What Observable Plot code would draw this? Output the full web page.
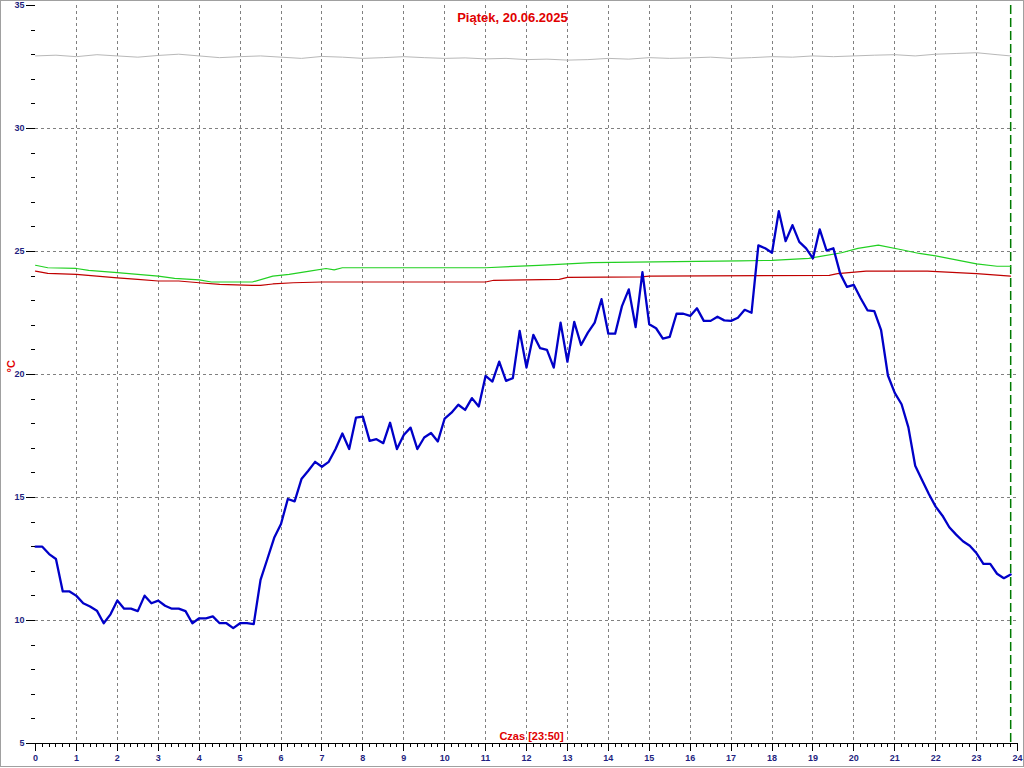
<!DOCTYPE html>
<html><head><meta charset="utf-8">
<script src="https://cdn.jsdelivr.net/npm/d3@7"></script>
<script src="https://cdn.jsdelivr.net/npm/@observablehq/plot@0.6"></script>
<style>
html,body{margin:0;padding:0;background:#fff;}
#wrap{position:relative;width:1024px;height:768px;overflow:hidden;}
#border{position:absolute;left:0;top:0;width:1022px;height:765px;border:1px solid #a0a0a0;pointer-events:none;}
</style></head><body><div id="wrap"><div id="border"></div></div>
<script>
// 10-minute samples, 00:00 .. 23:50
const blueTemp = [13.0,13.0,12.7,12.5,11.18,11.18,11.0,10.7,10.57,10.4,9.89,10.25,
10.81,10.48,10.48,10.38,11.01,10.7,10.81,10.6,10.48,10.48,10.38,9.89,
10.09,10.09,10.17,9.89,9.89,9.69,9.89,9.89,9.85,11.65,12.5,13.36,
13.92,14.94,14.84,15.75,16.09,16.45,16.25,16.45,16.97,17.6,16.97,18.25,
18.29,17.3,17.37,17.21,18.04,16.97,17.54,17.84,16.97,17.44,17.62,17.28,
18.21,18.45,18.77,18.56,19.04,18.7,19.94,19.71,20.52,19.74,19.85,21.77,
20.28,21.61,21.07,21.0,20.28,22.11,20.52,22.14,21.2,21.7,22.11,23.06,
21.66,21.66,22.78,23.46,21.93,24.16,22.04,21.88,21.46,21.53,22.47,22.47,
22.38,22.69,22.18,22.18,22.35,22.2,22.18,22.31,22.63,22.51,25.25,25.13,
24.95,26.64,25.42,26.07,25.39,25.13,24.72,25.9,25.04,25.13,24.1,23.56,
23.64,23.1,22.61,22.58,21.8,19.96,19.25,18.79,17.85,16.29,15.71,15.14,
14.63,14.26,13.79,13.49,13.22,13.04,12.73,12.3,12.3,11.9,11.72,11.87];

// 30-minute readings of the grey series
const grayTemp = [32.95,32.98,32.92,33.0,32.95,32.9,32.97,33.02,32.95,32.88,32.92,32.95,
32.9,32.85,32.93,32.9,32.85,32.88,32.92,32.88,32.85,32.87,32.83,32.85,
32.8,32.82,32.78,32.8,32.85,32.82,32.88,32.85,32.87,32.9,32.85,32.88,
32.92,32.9,32.95,32.92,32.95,32.98,33.0,32.95,33.02,33.05,33.08,33.0,32.95];

const greenHours = [0,0.3,1,1.3,2,3,3.4,4,4.3,5.3,5.8,6.2,6.7,7.1,7.3,7.5,11,12.3,13.6,17.2,18,18.9,19.7,20.1,20.6,21.2,21.6,22,23,23.5,23.83];
const greenTemp  = [24.44,24.34,24.31,24.23,24.14,24.0,23.91,23.85,23.76,23.76,24.0,24.07,24.2,24.31,24.25,24.34,24.34,24.44,24.55,24.62,24.64,24.72,24.95,25.13,25.26,25.06,24.92,24.82,24.5,24.4,24.4];

const redHours = [0,0.3,1,1.5,2,2.5,3,3.5,4,4.5,5.3,5.5,5.8,6.3,7,11,11.2,12.8,13,14.8,15,19.4,19.6,20.3,21.8,23,23.83];
const redTemp  = [24.2,24.11,24.07,24.0,23.93,23.87,23.8,23.8,23.73,23.66,23.62,23.62,23.68,23.73,23.76,23.76,23.83,23.87,23.95,23.97,24.0,24.03,24.1,24.2,24.2,24.1,24.0];

const hourTicks = [0,1,2,3,4,5,6,7,8,9,10,11,12,13,14,15,16,17,18,19,20,21,22,23,24];
const yTicks = [5,10,15,20,25,30,35];
const gridHours = hourTicks.slice(1, -1);
const gridTemps = [10,15,20,25,30];
const title = "Piątek, 20.06.2025";
const xTitle = "Czas [23:50]";
const yTitle = "°C";
const endHour = 23 + 50/60;

const blue = blueTemp.map((v,i) => ({h: i/6, v}));
const gray = grayTemp.map((v,i) => ({h: i === grayTemp.length-1 ? endHour : i/2, v}));
const green = greenHours.map((h,i) => ({h, v: greenTemp[i]}));
const red = redHours.map((h,i) => ({h, v: redTemp[i]}));
const minorX = d3.range(0, 24*6+1).map(i => i/6);
const minorY = d3.range(5, 36);

const navy = "#1f1f80";
const crisp = {shapeRendering: "crispEdges"};
const chart = Plot.plot({
  width: 1024, height: 768,
  marginLeft: 35, marginRight: 7, marginTop: 5, marginBottom: 25,
  x: {domain: [0, 24]},
  y: {domain: [5, 35]},
  style: {background: "transparent", fontFamily: "'Liberation Sans', Arial, sans-serif", overflow: "visible"},
  marks: [
    Plot.gridX(gridHours, {stroke: "#808080", strokeOpacity: 1, strokeDasharray: "3,3", ...crisp}),
    Plot.gridY(gridTemps, {stroke: "#808080", strokeOpacity: 1, strokeDasharray: "3,3", ...crisp}),
    Plot.ruleX([endHour], {stroke: "#007a00", strokeWidth: 1.5, strokeDasharray: "9,4"}),
    Plot.line(gray, {x: "h", y: "v", stroke: "#b8b8b8", strokeWidth: 1}),
    Plot.line(green, {x: "h", y: "v", stroke: "#22d022", strokeWidth: 1.2}),
    Plot.line(red, {x: "h", y: "v", stroke: "#c00000", strokeWidth: 1.2}),
    Plot.line(blue, {x: "h", y: "v", stroke: "#0000c8", strokeWidth: 2.3}),
    Plot.ruleY([5], {stroke: "black", strokeWidth: 1, ...crisp}),
    Plot.axisX(minorX, {tickSize: 4, tickFormat: () => "", stroke: "black", strokeOpacity: 1, label: null, ...crisp}),
    Plot.axisX(hourTicks, {tickSize: 8, tickPadding: 3, tickFormat: "d", stroke: "black", strokeOpacity: 1, fill: navy, fontWeight: "bold", fontSize: 9, label: null, ...crisp}),
    Plot.axisY(minorY, {tickSize: 4, tickFormat: () => "", stroke: "black", strokeOpacity: 1, label: null, ...crisp}),
    Plot.axisY(yTicks, {tickSize: 9, tickPadding: 2, tickFormat: "d", stroke: "black", strokeOpacity: 1, fill: navy, fontWeight: "bold", fontSize: 9, label: null, ...crisp}),
    Plot.text([title], {frameAnchor: "top", lineAnchor: "middle", dy: 12, dx: -14, fill: "#e00000", fontWeight: "bold", fontSize: 13}),
    Plot.text([xTitle], {frameAnchor: "bottom", lineAnchor: "middle", dy: -7, dx: 5, fill: "#e00000", fontWeight: "bold", fontSize: 11}),
    Plot.text([yTitle], {frameAnchor: "left", lineAnchor: "middle", dx: -24, dy: -2, rotate: -90, fill: "#e00000", fontWeight: "bold", fontSize: 11})
  ]
});
document.getElementById("wrap").appendChild(chart);
chart.style.position = "absolute";
chart.style.left = "0";
chart.style.top = "0";
</script></body></html>
